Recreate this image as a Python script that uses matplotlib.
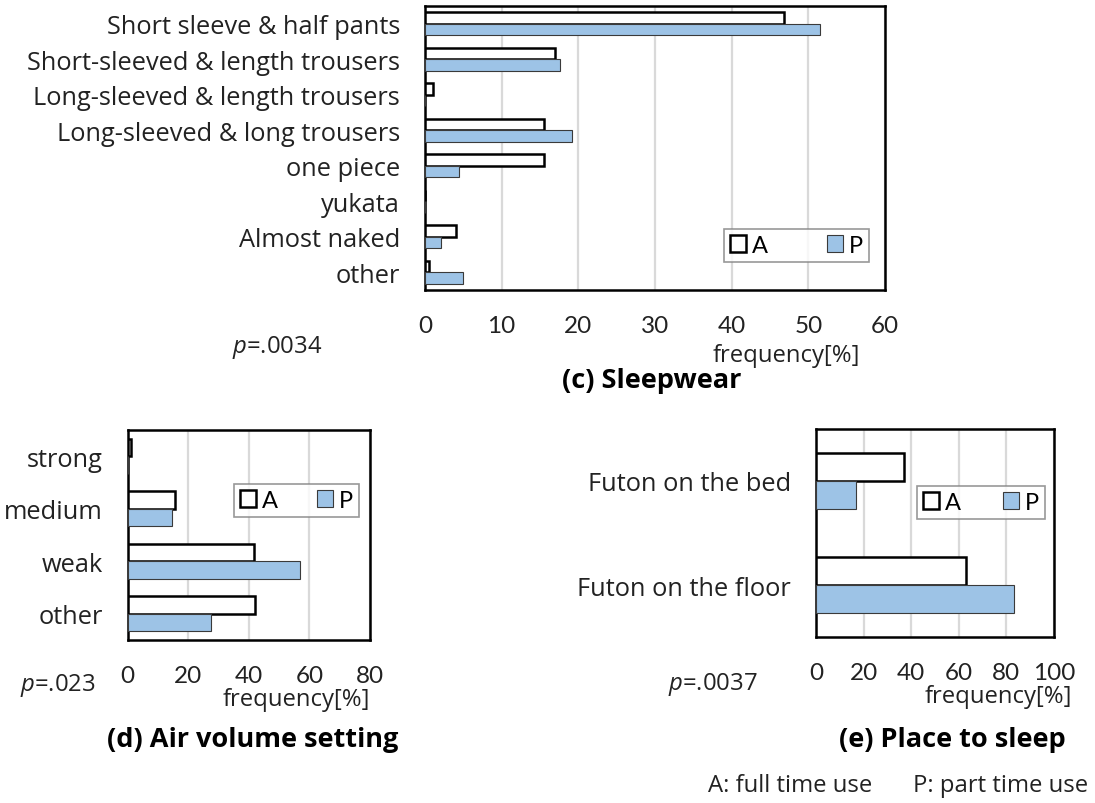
"""Sleepwear / air volume / place to sleep frequency bars (A vs P)."""
import matplotlib
matplotlib.use("Agg")
import matplotlib.pyplot as plt
from matplotlib.patches import Patch

plt.rcParams["font.family"] = ["Open Sans", "DejaVu Sans"]
plt.rcParams["mathtext.fontset"] = "custom"
plt.rcParams["mathtext.it"] = "Open Sans:italic"
plt.rcParams["mathtext.rm"] = "Open Sans"

W, H = 1095, 804

# (c) Sleepwear
wear_cats = ["Short sleeve & half pants", "Short-sleeved & length trousers",
             "Long-sleeved & length trousers", "Long-sleeved & long trousers",
             "one piece", "yukata", "Almost naked", "other"]
wear_a = [46.8, 16.9, 1.0, 15.5, 15.5, 0.0, 4.0, 0.5]
wear_p = [51.5, 17.6, 0.0, 19.2, 4.4, 0.0, 2.1, 5.0]
wear_ticks = [0, 10, 20, 30, 40, 50, 60]

# (d) Air volume setting
air_cats = ["strong", "medium", "weak", "other"]
air_a = [1.1, 15.7, 41.6, 42.0]
air_p = [0.0, 14.8, 56.9, 27.4]
air_ticks = [0, 20, 40, 60, 80]

# (e) Place to sleep
place_cats = ["Futon on the bed", "Futon on the floor"]
place_a = [36.8, 63.2]
place_p = [16.9, 83.1]
place_ticks = [0, 20, 40, 60, 80, 100]

BLUE = "#9DC3E6"
TXT = "#222222"
CAT_SIZE = 18.3
TICK_SIZE = 17.5
LBL_SIZE = 17.2
TITLE_SIZE = 19.5


def px_axes(fig, left, top, right, bottom):
    return fig.add_axes([left / W, 1 - bottom / H, (right - left) / W, (bottom - top) / H])


def draw_panel(ax, cats, a, p, ticks, bar_h, legend_box):
    y = list(range(len(cats)))
    ax.barh([i - bar_h / 2 for i in y], a, height=bar_h, color="white",
            edgecolor="black", linewidth=1.8, zorder=3)
    ax.barh([i + bar_h / 2 for i in y], p, height=bar_h, color=BLUE,
            edgecolor="#3a3a3a", linewidth=0.8, zorder=3)
    ax.set_ylim(len(cats) - 0.5, -0.5)
    ax.set_xlim(ticks[0], ticks[-1])
    ax.set_xticks(ticks)
    ax.set_yticks(y)
    ax.set_yticklabels(cats, fontsize=CAT_SIZE)
    ax.set_xticklabels([str(t) for t in ticks], fontsize=TICK_SIZE, family="Lato")
    ax.tick_params(axis="both", length=0, colors=TXT)
    ax.tick_params(axis="y", pad=18)
    ax.tick_params(axis="x", pad=18)
    ax.xaxis.grid(True, color="#d9d9d9", linewidth=1.6, zorder=0)
    ax.set_axisbelow(True)
    for s in ax.spines.values():
        s.set_linewidth(1.8)
        s.set_color("black")
    handles = [Patch(facecolor="white", edgecolor="black", linewidth=1.8),
               Patch(facecolor=BLUE, edgecolor="#3a3a3a", linewidth=0.8)]
    x0, y0, x1, y1 = legend_box
    pos = ax.get_position()
    l, r = pos.x0 * W, pos.x1 * W
    t, b = (1 - pos.y1) * H, (1 - pos.y0) * H
    leg = ax.legend(handles, ["A", "P"], ncol=2, loc="upper left",
                    bbox_to_anchor=((x0 - l) / (r - l), (b - y0) / (b - t),
                                    (x1 - x0) / (r - l), 0.0),
                    mode="expand", borderaxespad=0,
                    prop={"family": "Lato", "size": 17},
                    handlelength=0.7, handleheight=0.7, handletextpad=0.25,
                    columnspacing=0.8, fancybox=False, edgecolor="#7f7f7f",
                    borderpad=0.25)
    leg.get_frame().set_linewidth(1.2)


def ftext(fig, x, y, s, **kw):
    fig.text(x / W, 1 - y / H, s, va="center", color=kw.pop("color", TXT), **kw)


fig = plt.figure(figsize=(W / 100, H / 100), dpi=100)

ax_c = px_axes(fig, 425, 7, 885, 291)
draw_panel(ax_c, wear_cats, wear_a, wear_p, wear_ticks, 0.325, (724, 230, 869, 262))
ax_d = px_axes(fig, 127.5, 431, 370, 641)
draw_panel(ax_d, air_cats, air_a, air_p, air_ticks, 0.335, (234, 485, 359, 518))
ax_e = px_axes(fig, 816, 430, 1054, 638)
draw_panel(ax_e, place_cats, place_a, place_p, place_ticks, 0.265, (917, 487, 1045, 529))

ftext(fig, 277, 348, "$p$=.0034", fontsize=LBL_SIZE, ha="center")
ftext(fig, 786, 356, "frequency[%]", fontsize=LBL_SIZE, ha="center")
ftext(fig, 652, 381, "(c) Sleepwear", fontsize=TITLE_SIZE, ha="center",
      fontweight="bold", color="black")

ftext(fig, 58, 686, "$p$=.023", fontsize=LBL_SIZE, ha="center")
ftext(fig, 296, 700, "frequency[%]", fontsize=LBL_SIZE, ha="center")
ftext(fig, 253, 740, "(d) Air volume setting", fontsize=TITLE_SIZE, ha="center",
      fontweight="bold", color="black")

ftext(fig, 713, 685, "$p$=.0037", fontsize=LBL_SIZE, ha="center")
ftext(fig, 998, 697, "frequency[%]", fontsize=LBL_SIZE, ha="center")
ftext(fig, 952, 740, "(e) Place to sleep", fontsize=TITLE_SIZE, ha="center",
      fontweight="bold", color="black")

ftext(fig, 708, 786, "A: full time use", fontsize=LBL_SIZE, ha="left")
ftext(fig, 1088, 786, "P: part time use", fontsize=LBL_SIZE, ha="right")

fig.savefig("out.png", dpi=100)
